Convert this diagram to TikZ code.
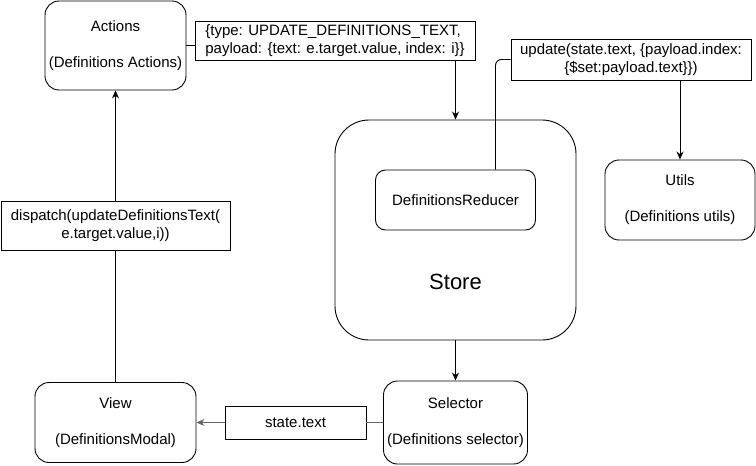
\documentclass[tikz,border=0pt]{standalone}
\usepackage{fontspec}
\setmainfont{Liberation Sans}
\usetikzlibrary{arrows.meta}
\begin{document}
\begin{tikzpicture}[x=1pt, y=-1pt, >={Stealth[length=8pt,width=7pt]}, line width=0.9pt,
  every node/.style={font=\fontsize{15}{18}\selectfont, align=center, inner sep=0pt},
  block/.style={draw, rounded corners=14pt},
  lblbox/.style={draw, fill=white}]

% Marco de la figura
\useasboundingbox (0,0) rectangle (756,466);

% =============================================
% Bloques principales
% =============================================
\node[block, minimum width=141pt, minimum height=89pt] (actions) at (115.5,45.5)
    {Actions\\[18pt](Definitions Actions)};
\node[block, rounded corners=34pt, minimum width=241pt, minimum height=220pt] (store) at (455.5,230) {};
\node[block, rounded corners=10pt, minimum width=160pt, minimum height=60pt] (reducer) at (455.5,200)
    {DefinitionsReducer};
\node[font=\fontsize{22}{26}\selectfont] (storelbl) at (455.5,282) {Store};
\node[block, minimum width=150pt, minimum height=80pt] (utils) at (680,200)
    {Utils\\[18pt](Definitions utils)};
\node[block, minimum width=161pt, minimum height=80pt] (view) at (115.5,422.5)
    {View\\[18pt](DefinitionsModal)};
\node[block, minimum width=144pt, minimum height=83pt] (selector) at (455.5,422.5)
    {Selector\\[18pt](Definitions selector)};

% =============================================
% Etiquetas de las conexiones
% =============================================
\node[lblbox, align=left, minimum width=280pt, minimum height=39pt] (actlabel) at (335,40.5)
    {\{type: UPDATE\_DEFINITIONS\_TEXT,\\payload: \{text: e.target.value, index: i\}\}};
\node[lblbox, minimum width=240pt, minimum height=41pt] (update) at (631,59.5)
    {update(state.text, \{payload.index:\\\{\$set:payload.text\}\})};
\node[lblbox, minimum width=229pt, minimum height=49pt] (dispatch) at (115.5,225.5)
    {dispatch(updateDefinitionsText(\\e.target.value,i))};
\node[lblbox, minimum width=141pt, minimum height=33pt] (statebox) at (295.5,422.5)
    {state.text};

% =============================================
% Conexiones
% =============================================
\draw (actions.east) -- (actions.east -| actlabel.west);
\draw[->] (actlabel.south -| store.north) -- (store.north);
\draw[rounded corners=6pt] ([xshift=40pt]reducer.north) |- (update.west);
\draw[->] (update.south -| utils.north) -- (utils.north);
\draw[->] (store.south) -- (selector.north);
\draw[black!60] (selector.west) -- (statebox.east);
\draw[->, black!60] (statebox.west) -- (view.east);
\draw (view.north) -- (dispatch.south);
\draw[->] (dispatch.north) -- (actions.south);

\end{tikzpicture}
\end{document}
